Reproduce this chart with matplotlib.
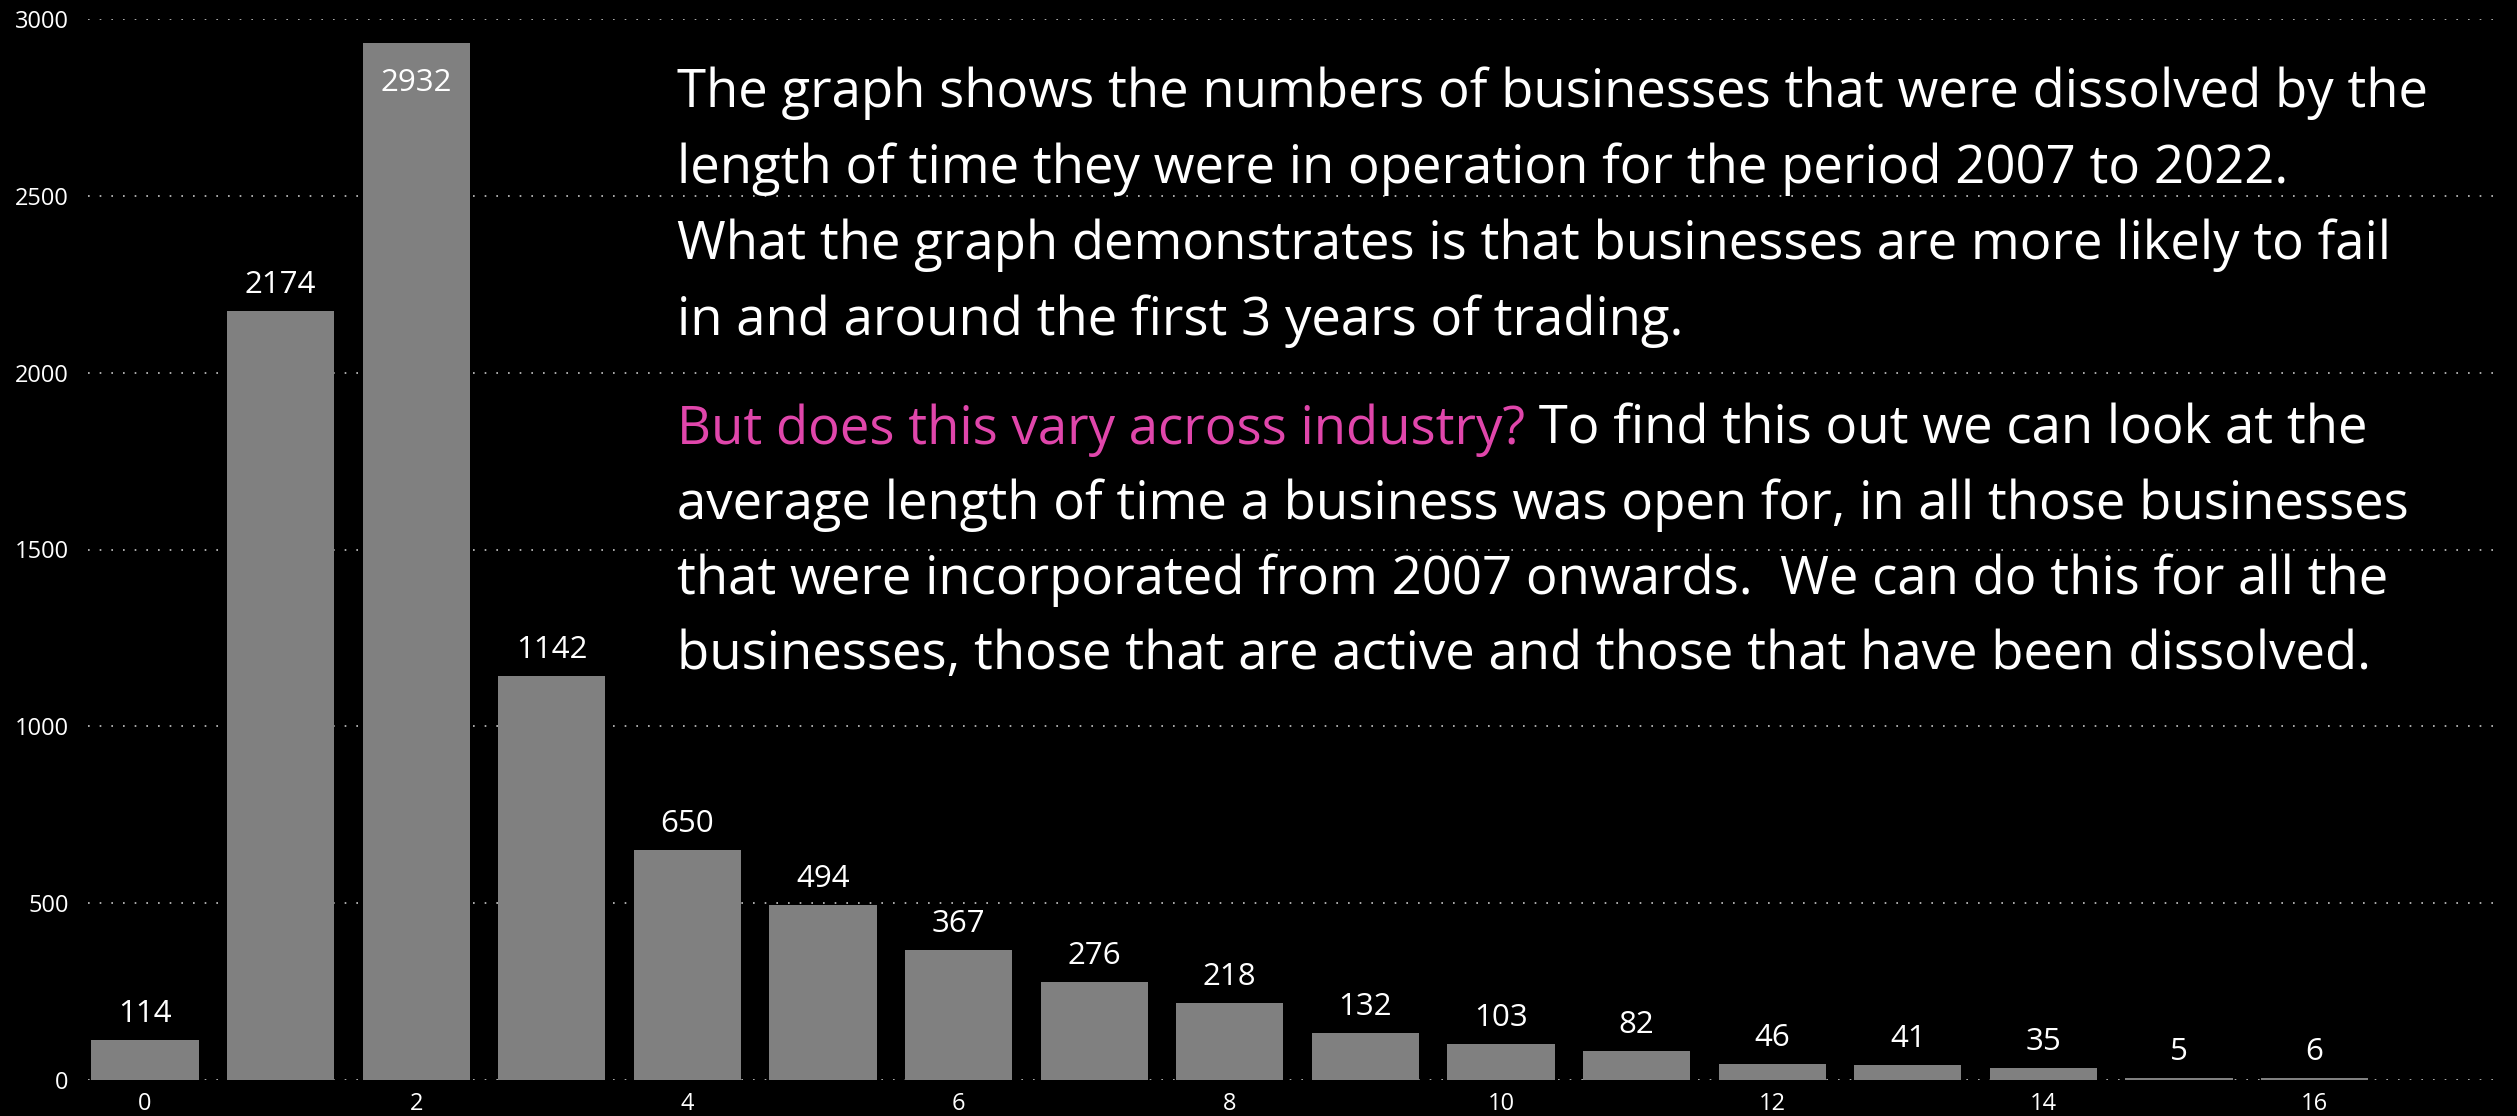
import numpy as np
import matplotlib.pyplot as plt

# Years in operation before dissolution and number of businesses
years = np.arange(0, 17)
counts = [114, 2174, 2932, 1142, 650, 494, 367, 276, 218, 132, 103, 82, 46, 41, 35, 5, 6]

para1 = [
    "The graph shows the numbers of businesses that were dissolved by the",
    "length of time they were in operation for the period 2007 to 2022.",
    "What the graph demonstrates is that businesses are more likely to fail",
    "in and around the first 3 years of trading.",
]
question = "But does this vary across industry?"
para2 = [
    " To find this out we can look at the",
    "average length of time a business was open for, in all those businesses",
    "that were incorporated from 2007 onwards.  We can do this for all the",
    "businesses, those that are active and those that have been dissolved.",
]

plt.rcParams['font.family'] = ['Open Sans', 'DejaVu Sans']

W, H = 2517, 1116
fig = plt.figure(figsize=(W / 100, H / 100), dpi=100, facecolor='black')
ax = fig.add_axes([88 / W, 1 - 1080 / H, (2495 - 88) / W, (1080 - 19) / H])
ax.set_facecolor('black')

bars = ax.bar(years, counts, width=0.79, color='#808080', zorder=2)

ax.set_xlim(-0.42, 17.33)
ax.set_ylim(0, 3000)
ax.set_xticks(np.arange(0, 17, 2))
ax.set_yticks(np.arange(0, 3001, 500))
ax.tick_params(axis='x', length=0, pad=9, labelsize=17, labelcolor='white')
ax.tick_params(axis='y', length=0, pad=14, labelsize=17, labelcolor='white')
for s in ax.spines.values():
    s.set_visible(False)
ax.yaxis.grid(True, linestyle=(0, (1, 6)), color='#c8c8c8', linewidth=1.2, zorder=0)
ax.set_axisbelow(True)

# value labels
for x, v in zip(years, counts):
    if v > 2800:
        ax.annotate(str(v), (x, v), xytext=(0, -18), textcoords='offset points',
                    ha='center', va='top', fontsize=22.5, color='white', zorder=3)
    else:
        ax.annotate(str(v), (x, v), xytext=(0, 13), textcoords='offset points',
                    ha='center', va='baseline', fontsize=22.5, color='white', zorder=3)

# commentary text
fs = 38
x0 = 677 / W
for i, line in enumerate(para1):
    fig.text(x0, 1 - (107 + 76 * i) / H, line, fontsize=fs, color='white', va='baseline')

q = fig.text(x0, 1 - 444 / H, question, fontsize=fs, color='#E046AB', va='baseline')
ax.annotate(para2[0], xy=(1, 0), xycoords=q, fontsize=fs, color='white',
            ha='left', va='bottom')
for i, line in enumerate(para2[1:], start=1):
    fig.text(x0, 1 - (444 + 75 * i) / H, line, fontsize=fs, color='white', va='baseline')

fig.savefig('out.png', dpi=100, facecolor='black')
